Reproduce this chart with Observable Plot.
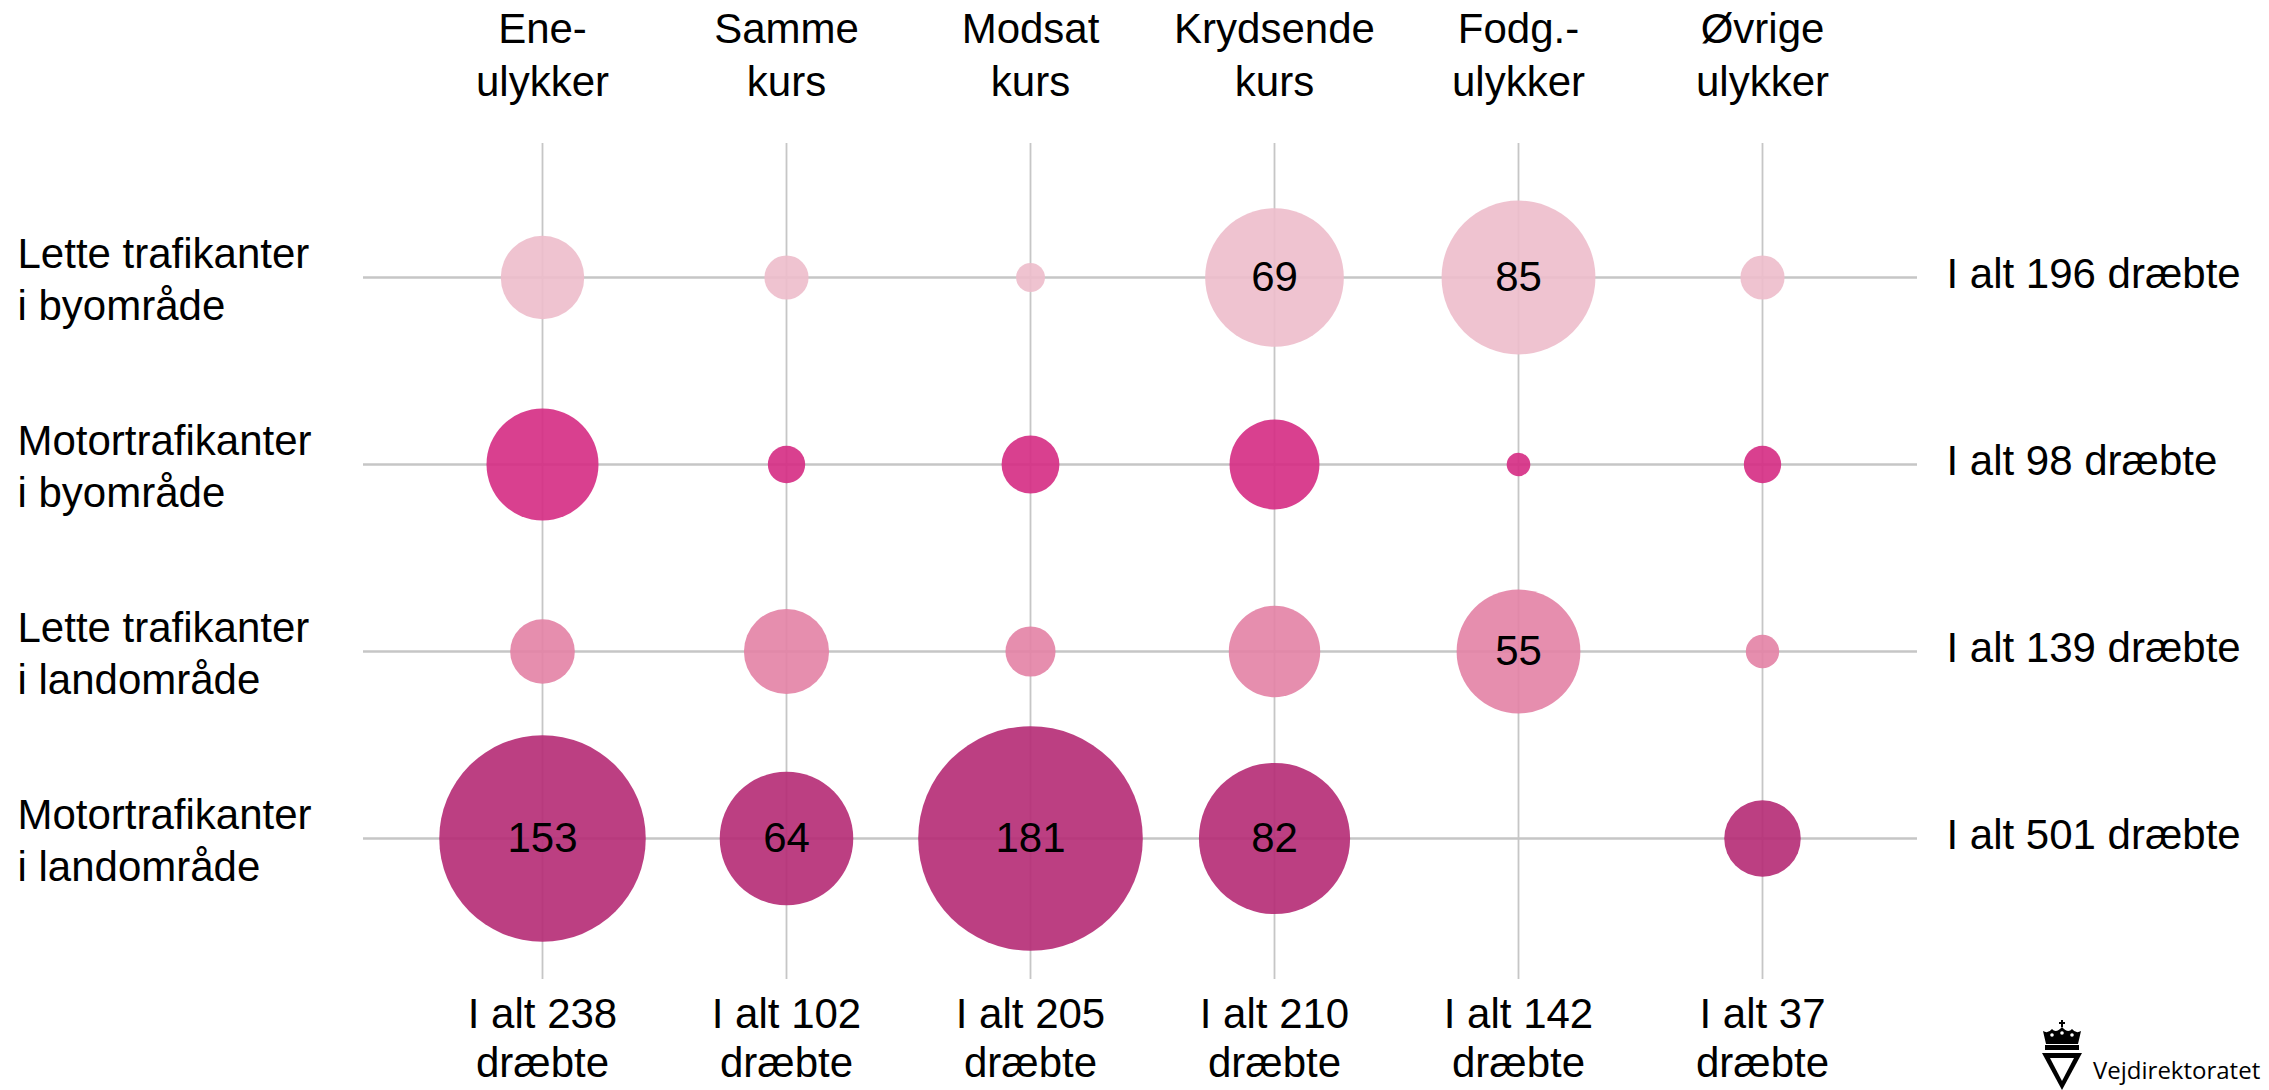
<!DOCTYPE html>
<html>
<head>
<meta charset="utf-8">
<script src="https://cdn.jsdelivr.net/npm/d3@7"></script>
<script src="https://cdn.jsdelivr.net/npm/@observablehq/plot@0.6"></script>
<style>
  html, body { margin: 0; padding: 0; background: #fff; }
  #wrap { position: relative; width: 2269px; height: 1090px; overflow: hidden; background: #fff; }
  #logo { position: absolute; left: 2036px; top: 1016px; width: 230px; height: 74px; }
  #logo svg { position: absolute; left: 0; top: 0; }
  #logo span { position: absolute; left: 57px; top: 41px; font-family: "Open Sans", "Liberation Sans", Arial, sans-serif; font-size: 24px; line-height: 26px; color: #000; white-space: nowrap; }
</style>
</head>
<body>
<div id="wrap">
  <div id="chart"></div>
  <div id="logo">
    <svg width="52" height="74" viewBox="0 0 52 74">
      <line x1="26" y1="4" x2="26" y2="11" stroke="#000" stroke-width="2"/>
      <line x1="23" y1="7" x2="29" y2="7" stroke="#000" stroke-width="2"/>
      <path d="M10,28 L7,15 Q12,18 16,13 Q20,18 26,11 Q32,18 36,13 Q40,18 45,15 L42,28 Z" fill="#000"/>
      <circle cx="16" cy="19" r="1.8" fill="#fff"/>
      <circle cx="26" cy="17" r="1.8" fill="#fff"/>
      <circle cx="36" cy="19" r="1.8" fill="#fff"/>
      <rect x="9" y="29" width="34" height="5" fill="#000"/>
      <path d="M6,37 L46,37 L26,74 Z" fill="#000"/>
      <path d="M14,42 L38,42 L26,65 Z" fill="#fff"/>
    </svg>
    <span>Vejdirektoratet</span>
  </div>
</div>
<script>
// ---- Data ----
const columns = ["Ene-\nulykker", "Samme\nkurs", "Modsat\nkurs", "Krydsende\nkurs", "Fodg.-\nulykker", "Øvrige\nulykker"];
const rows = ["Lette trafikanter\ni byområde", "Motortrafikanter\ni byområde", "Lette trafikanter\ni landområde", "Motortrafikanter\ni landområde"];
const letteByValues   = [25, 7, 3, 69, 85, 7];
const motorByValues   = [45, 5, 12, 29, 2, 5];
const letteLandValues = [15, 26, 9, 30, 55, 4];
const motorLandValues = [153, 64, 181, 82, 0, 21];
const rowTotals = [196, 98, 139, 501];
const columnTotals = [238, 102, 205, 210, 142, 37];
const rowColors = ["#edbccb", "#d52b83", "#e382a5", "#b52a74"];
const labelThreshold = 50;

const series = [letteByValues, motorByValues, letteLandValues, motorLandValues];
const cells = rows.flatMap((row, i) => columns.map((col, j) => ({row, col, value: series[i][j]})));

const font = '"Liberation Sans", Arial, sans-serif';

const chart = Plot.plot({
  width: 2269,
  height: 1090,
  marginLeft: 363,
  marginRight: 352,
  marginTop: 143,
  marginBottom: 111,
  x: {type: "point", domain: columns, padding: 0.679, align: 0.536, axis: null},
  y: {type: "point", domain: rows, padding: 0.7235, align: 0.489, axis: null},
  r: {domain: [0, 181], range: [0, 112.3]},
  color: {domain: rows, range: rowColors},
  style: {fontFamily: font, fontSize: "42px", color: "#000", background: "#fff", overflow: "visible"},
  marks: [
    Plot.ruleX(columns, {x: d => d, stroke: "#c6c6c6", strokeWidth: 1.8}),
    Plot.ruleY(rows, {y: d => d, stroke: "#c6c6c6", strokeWidth: 2.4}),
    Plot.dot(cells.filter(d => d.value > 0), {x: "col", y: "row", r: "value", fill: "row", fillOpacity: 0.9, stroke: null}),
    Plot.text(cells.filter(d => d.value >= labelThreshold), {x: "col", y: "row", text: d => String(d.value), fontSize: 42, fill: "#000"}),
    Plot.text(columns, {x: d => d, text: d => d, frameAnchor: "top", lineAnchor: "bottom", lineHeight: 1.24, dy: -48, fontSize: 42, fill: "#000"}),
    Plot.text(columnTotals, {x: (d, i) => columns[i], text: d => `I alt ${d}\ndræbte`, frameAnchor: "bottom", lineAnchor: "top", lineHeight: 1.16, dy: 14, fontSize: 42, fill: "#000"}),
    Plot.text(rows, {y: d => d, text: d => d, frameAnchor: "left", textAnchor: "start", lineAnchor: "middle", lineHeight: 1.24, dx: -346, fontSize: 42, fill: "#000"}),
    Plot.text(rowTotals, {y: (d, i) => rows[i], text: d => `I alt ${d} dræbte`, frameAnchor: "right", textAnchor: "start", dx: 29, dy: -3, fontSize: 42, fill: "#000"})
  ]
});
document.getElementById("chart").appendChild(chart);
</script>
</body>
</html>
